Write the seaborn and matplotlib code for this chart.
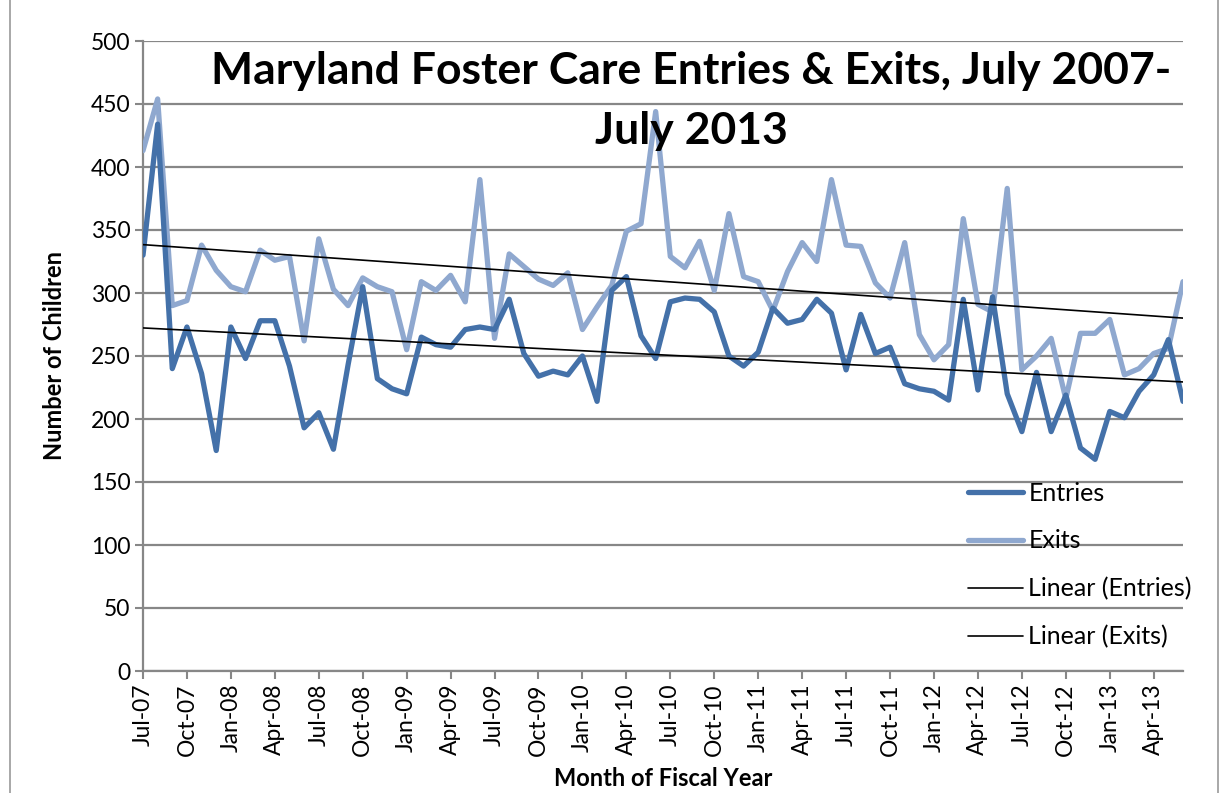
import numpy as np
import pandas as pd
import matplotlib
matplotlib.use("Agg")
import matplotlib.pyplot as plt
from matplotlib.lines import Line2D
import seaborn as sns

# ---- data ----
months = ["Jul-07","Aug-07","Sep-07","Oct-07","Nov-07","Dec-07",
          "Jan-08","Feb-08","Mar-08","Apr-08","May-08","Jun-08",
          "Jul-08","Aug-08","Sep-08","Oct-08","Nov-08","Dec-08",
          "Jan-09","Feb-09","Mar-09","Apr-09","May-09","Jun-09",
          "Jul-09","Aug-09","Sep-09","Oct-09","Nov-09","Dec-09",
          "Jan-10","Feb-10","Mar-10","Apr-10","May-10","Jun-10",
          "Jul-10","Aug-10","Sep-10","Oct-10","Nov-10","Dec-10",
          "Jan-11","Feb-11","Mar-11","Apr-11","May-11","Jun-11",
          "Jul-11","Aug-11","Sep-11","Oct-11","Nov-11","Dec-11",
          "Jan-12","Feb-12","Mar-12","Apr-12","May-12","Jun-12",
          "Jul-12","Aug-12","Sep-12","Oct-12","Nov-12","Dec-12",
          "Jan-13","Feb-13","Mar-13","Apr-13","May-13","Jun-13"]

entries = [330, 434, 240, 273, 236, 175, 273, 248, 278, 278, 242, 193,
           205, 176, 243, 305, 232, 224, 220, 265, 259, 257, 271, 273,
           271, 295, 252, 234, 238, 235, 250, 214, 302, 313, 266, 248,
           293, 296, 295, 285, 250, 242, 253, 288, 276, 279, 295, 284,
           239, 283, 252, 257, 228, 224, 222, 215, 295, 223, 297, 220,
           190, 237, 190, 219, 177, 168, 206, 201, 222, 235, 263, 214]

exits = [413, 454, 290, 294, 338, 318, 305, 301, 334, 326, 329, 262,
         343, 303, 290, 312, 305, 301, 255, 309, 302, 314, 293, 390,
         264, 331, 321, 311, 306, 316, 271, 289, 306, 349, 355, 444,
         329, 320, 341, 302, 363, 313, 309, 286, 317, 340, 325, 390,
         338, 337, 308, 296, 340, 267, 247, 259, 359, 291, 285, 383,
         239, 250, 264, 216, 268, 268, 279, 235, 240, 252, 256, 309]

tick_labels = ["Jul-07","Oct-07","Jan-08","Apr-08","Jul-08","Oct-08",
               "Jan-09","Apr-09","Jul-09","Oct-09","Jan-10","Apr-10",
               "Jul-10","Oct-10","Jan-11","Apr-11","Jul-11","Oct-11",
               "Jan-12","Apr-12","Jul-12","Oct-12","Jan-13","Apr-13"]

title = "Maryland Foster Care Entries & Exits, July 2007-\nJuly 2013"

# ---- styling ----
sns.set_theme(style="white")
plt.rcParams["font.family"] = ["Lato", "DejaVu Sans"]
plt.rcParams["text.color"] = "black"
plt.rcParams["axes.labelcolor"] = "black"

c_entries = "#4471A9"
c_exits = "#8FA8CF"
grid_c = "#878787"

df = pd.DataFrame({"idx": np.arange(len(months)), "month": months,
                   "Entries": entries, "Exits": exits})

fig = plt.figure(figsize=(12.22, 7.93), dpi=100)
ax = fig.add_axes([143/1222, 1-671/793, (1183-143)/1222, (671-41)/793])

sns.lineplot(data=df, x="idx", y="Exits", ax=ax, color=c_exits, lw=3.8, zorder=3)
sns.lineplot(data=df, x="idx", y="Entries", ax=ax, color=c_entries, lw=3.8, zorder=4)
sns.regplot(data=df, x="idx", y="Entries", ax=ax, scatter=False, ci=None,
            color="black", line_kws=dict(lw=1.2, zorder=5))
sns.regplot(data=df, x="idx", y="Exits", ax=ax, scatter=False, ci=None,
            color="black", line_kws=dict(lw=1.2, zorder=5))

ax.set_xlim(0, len(months) - 1)
ax.set_ylim(0, 500)
ax.set_yticks(np.arange(0, 501, 50))
ax.set_xticks(np.arange(0, len(months), 3))
ax.set_xticklabels(tick_labels, rotation=90)
ax.tick_params(axis="both", labelsize=16.5, color=grid_c, labelcolor="black",
               length=6, width=1.5, direction="out", bottom=True, left=True, pad=3)
ax.grid(axis="y", color=grid_c, lw=1.6, zorder=0)
ax.set_axisbelow(True)
for s in ["top", "right"]:
    ax.spines[s].set_visible(False)
for s in ["left", "bottom"]:
    ax.spines[s].set_color(grid_c)
    ax.spines[s].set_linewidth(1.6)

ax.set_xlabel("Month of Fiscal Year", fontsize=17, fontweight="bold", labelpad=8)
ax.set_ylabel("Number of Children", fontsize=17, fontweight="bold", labelpad=18)

handles = [Line2D([0], [0], color=c_entries, lw=3.8, solid_capstyle="round"),
           Line2D([0], [0], color=c_exits, lw=3.8, solid_capstyle="round"),
           Line2D([0], [0], color="black", lw=1.2),
           Line2D([0], [0], color="black", lw=1.2)]
labels = ["Entries", "Exits", "Linear (Entries)", "Linear (Exits)"]
ax.legend(handles, labels, loc="lower left", bbox_to_anchor=(0.784, 0.02),
          frameon=False, fontsize=18, handlelength=2.2, handletextpad=0.2,
          labelspacing=0.99, borderaxespad=0)

fig.text(691/1222, 1-51/793, title, ha="center", va="top", fontsize=32,
         fontweight="bold", linespacing=1.6, zorder=10, color="black")

# outer chart border
fig.add_artist(Line2D([10/1222, 10/1222], [0, 1], color="#9a9a9a", lw=1.2,
                      transform=fig.transFigure))
fig.add_artist(Line2D([1218/1222, 1218/1222], [0, 1], color="#9a9a9a", lw=1.2,
                      transform=fig.transFigure))

fig.savefig("out.png", dpi=100)
